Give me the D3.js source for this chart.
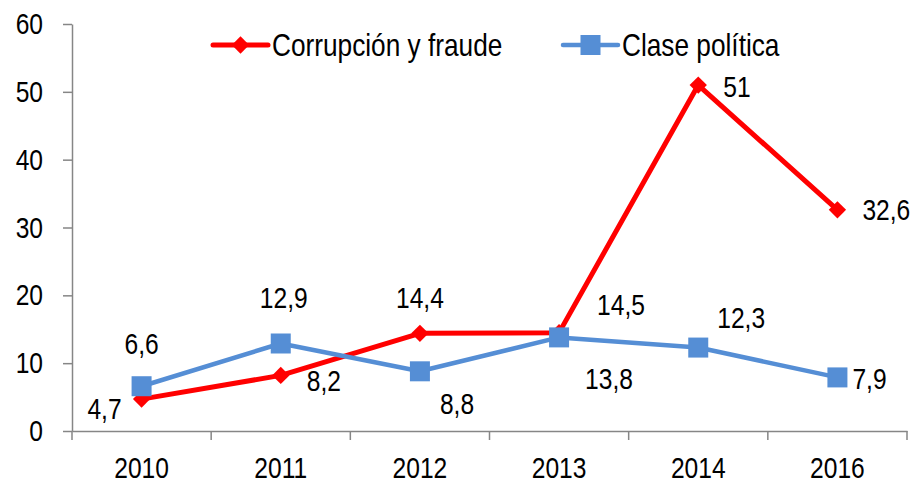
<!DOCTYPE html>
<html lang="es">
<head>
<meta charset="UTF-8">
<title>Corrupción y clase política</title>
<script src="https://d3js.org/d3.v7.min.js"></script>
<style>
  body { margin: 0; background: #fff; }
  text { font-family: "Liberation Sans", Arial, sans-serif; fill: #000; }
</style>
</head>
<body>
<script>
// data
var years = ['2010', '2011', '2012', '2013', '2014', '2016'];
var corrupcion = [4.7, 8.2, 14.4, 14.5, 51, 32.6];
var clase = [6.6, 12.9, 8.8, 13.8, 12.3, 7.9];
var yTicks = [0, 10, 20, 30, 40, 50, 60];
var seriesNames = ['Corrupción y fraude', 'Clase política'];

// label placement (dx, dy, anchor) for each point
var redLabelPos = [[-20, 9, 'end'], [26, 5, 'start'], [0, -36, 'middle'], [38, -28, 'start'], [25, 2, 'start'], [25, 0, 'start']];
var blueLabelPos = [[0, -43, 'middle'], [3, -46, 'middle'], [20, 32, 'start'], [26, 41, 'start'], [19, -30, 'start'], [15, 1, 'start']];

var width = 915, height = 483;
var mLeft = 72, mRight = 907, mTop = 24, mBottom = 431;
var axisColor = '#868686';
var red = '#ff0000', blue = '#558ed5';
var squeeze = 0.82; // narrow font look

var svg = d3.select('body').append('svg')
    .attr('width', width)
    .attr('height', height);

var x = d3.scaleBand().domain(years).range([mLeft, mRight]);
var y = d3.scaleLinear().domain([0, 60]).range([mBottom, mTop]);
var cx = function(d) { return x(d) + x.bandwidth() / 2; };
var fmt = function(v) { return String(v).replace('.', ','); };

// squeeze text horizontally around its anchor point
function narrow(sel) {
    sel.each(function() {
        var t = d3.select(this);
        var tx = +t.attr('x') || 0, ty = +t.attr('y') || 0;
        t.attr('x', 0).attr('y', 0)
            .attr('transform', 'translate(' + tx + ',' + ty + ') scale(' + squeeze + ',1)');
    });
}

// y axis
var yAxis = svg.append('g')
    .attr('transform', 'translate(' + mLeft + ',0)')
    .call(d3.axisLeft(y).tickValues(yTicks).tickSize(9).tickSizeOuter(0).tickPadding(20));
yAxis.select('.domain').attr('stroke', axisColor).attr('stroke-width', 1.5);
yAxis.selectAll('.tick line').attr('stroke', axisColor).attr('stroke-width', 1.5);
yAxis.selectAll('.tick text').attr('font-size', 30).attr('fill', '#000').call(narrow);

// x axis
var xAxis = svg.append('g')
    .attr('transform', 'translate(0,' + mBottom + ')')
    .call(d3.axisBottom(x).tickSize(0).tickPadding(26));
xAxis.select('.domain').attr('stroke', axisColor).attr('stroke-width', 1.5);
xAxis.selectAll('.tick text').attr('font-size', 30).attr('fill', '#000').call(narrow);

var bounds = years.map(function(d) { return x(d); }).concat([x.range()[1]]);
xAxis.selectAll('line.bound')
    .data(bounds)
    .enter()
    .append('line')
    .attr('class', 'bound')
    .attr('x1', function(d) { return d; })
    .attr('x2', function(d) { return d; })
    .attr('y1', 0)
    .attr('y2', 9)
    .attr('stroke', axisColor)
    .attr('stroke-width', 1.5);

var line = d3.line()
    .x(function(d, i) { return cx(years[i]); })
    .y(function(d) { return y(d); });

var diamond = d3.symbol().type(d3.symbolSquare).size(150);

function redMarker(g) {
    g.append('path')
        .attr('d', diamond)
        .attr('transform', 'rotate(45)')
        .attr('fill', red);
}

function blueMarker(g) {
    g.append('rect')
        .attr('x', -10).attr('y', -10)
        .attr('width', 20).attr('height', 20)
        .attr('fill', blue);
}

function drawSeries(values, color, lw, marker, labelPos) {
    svg.append('path')
        .datum(values)
        .attr('d', line)
        .attr('fill', 'none')
        .attr('stroke', color)
        .attr('stroke-width', lw)
        .attr('stroke-linejoin', 'round');

    svg.selectAll(null)
        .data(values)
        .enter()
        .append('g')
        .attr('transform', function(d, i) { return 'translate(' + cx(years[i]) + ',' + y(d) + ')'; })
        .call(marker);

    svg.selectAll(null)
        .data(values)
        .enter()
        .append('text')
        .attr('x', function(d, i) { return cx(years[i]) + labelPos[i][0]; })
        .attr('y', function(d, i) { return y(d) + labelPos[i][1]; })
        .attr('text-anchor', function(d, i) { return labelPos[i][2]; })
        .attr('dominant-baseline', 'central')
        .attr('font-size', 30)
        .text(fmt)
        .call(narrow);
}

drawSeries(corrupcion, red, 5, redMarker, redLabelPos);
drawSeries(clase, blue, 4.5, blueMarker, blueLabelPos);

// legend
var legend = [
    { name: seriesNames[0], color: red, lw: 5, marker: redMarker, x: 213 },
    { name: seriesNames[1], color: blue, lw: 4.5, marker: blueMarker, x: 563 }
];
legend.forEach(function(l) {
    var g = svg.append('g').attr('transform', 'translate(' + l.x + ',45)');
    g.append('line')
        .attr('x1', 0).attr('x2', 55)
        .attr('stroke', l.color)
        .attr('stroke-width', l.lw)
        .attr('stroke-linecap', 'round');
    g.append('g').attr('transform', 'translate(27.5,0)').call(l.marker);
    g.append('text')
        .attr('x', 59)
        .attr('y', 0)
        .attr('dominant-baseline', 'central')
        .attr('font-size', 32)
        .text(l.name)
        .call(narrow);
});
</script>
</body>
</html>
